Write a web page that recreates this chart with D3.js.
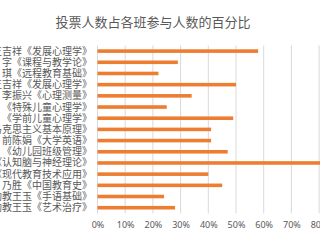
<!DOCTYPE html>
<html>
<head>
<meta charset="utf-8">
<script src="https://cdn.jsdelivr.net/npm/d3@7"></script>
<style>
html, body { margin: 0; padding: 0; background: #fff; overflow: hidden; }
svg { display: block; font-family: "Noto Sans CJK SC", sans-serif; }
</style>
</head>
<body>
<svg width="320" height="240"></svg>
<script>
// 课程（从上到下），左侧被裁掉的部分只保留可见文字
const courses = [
    "王吉祥《发展心理学》",
    "字《课程与教学论》",
    "琪《远程教育基础》",
    "王吉祥《发展心理学》 ",
    "李振兴《心理测量》",
    "《特殊儿童心理学》",
    "《学前儿童心理学》",
    "马克思主义基本原理》",
    "前陈娟《大学英语》",
    "《幼儿园班级管理》",
    "《认知脑与神经理论》",
    "《现代教育技术应用》",
    "乃胜《中国教育史》",
    "助教王玉《手语基础》",
    "助教王玉《艺术治疗》"
];

// 投票人数占比
const shares = [0.58, 0.29, 0.22, 0.50, 0.34, 0.25, 0.49, 0.41, 0.41, 0.47, 0.85, 0.40, 0.45, 0.24, 0.28];

const tickValues = [0, 0.1, 0.2, 0.3, 0.4, 0.5, 0.6, 0.7, 0.8, 0.9, 1.0];

const title = "投票人数占各班参与人数的百分比";

const svg = d3.select("svg");

const plotTop = 45.5, plotBottom = 213.3;

const x = d3.scaleLinear().domain([0, 1]).range([97.5, 374.5]);
const y = d3.scaleBand().domain(courses).range([plotTop, plotBottom])
    .paddingInner(0.68).paddingOuter(0.34);

// 网格线
svg.append("g").selectAll("line")
    .data(tickValues)
  .enter().append("line")
    .attr("x1", d => x(d)).attr("x2", d => x(d))
    .attr("y1", plotTop).attr("y2", plotBottom)
    .attr("stroke", "#d9d9d9")
    .attr("stroke-width", 1);

// 条形
svg.append("g").selectAll("rect")
    .data(courses)
  .enter().append("rect")
    .attr("x", x(0))
    .attr("y", d => y(d))
    .attr("width", (d, i) => x(shares[i]) - x(0))
    .attr("height", y.bandwidth())
    .attr("fill", "#ed7d31");

// 类别标签
svg.append("g").selectAll("text")
    .data(courses)
  .enter().append("text")
    .attr("x", 92)
    .attr("y", d => y(d) + y.bandwidth() / 2)
    .attr("dy", "0.35em")
    .attr("text-anchor", "end")
    .attr("font-size", 10)
    .attr("fill", "#595959")
    .text(d => d.trim());

// 横轴刻度
const xAxis = d3.axisBottom(x).tickValues(tickValues).tickFormat(d3.format(".0%")).tickSize(0);
const ax = svg.append("g")
    .attr("transform", "translate(0," + (plotBottom + 5) + ")")
    .call(xAxis);
ax.select(".domain").remove();
ax.selectAll("text")
    .attr("font-size", 9)
    .attr("font-family", "\"Noto Sans\", sans-serif")
    .attr("fill", "#595959");

// 标题
svg.append("text")
    .attr("x", 153)
    .attr("y", 27)
    .attr("text-anchor", "middle")
    .attr("font-size", 13)
    .attr("fill", "#595959")
    .text(title);
</script>
</body>
</html>
